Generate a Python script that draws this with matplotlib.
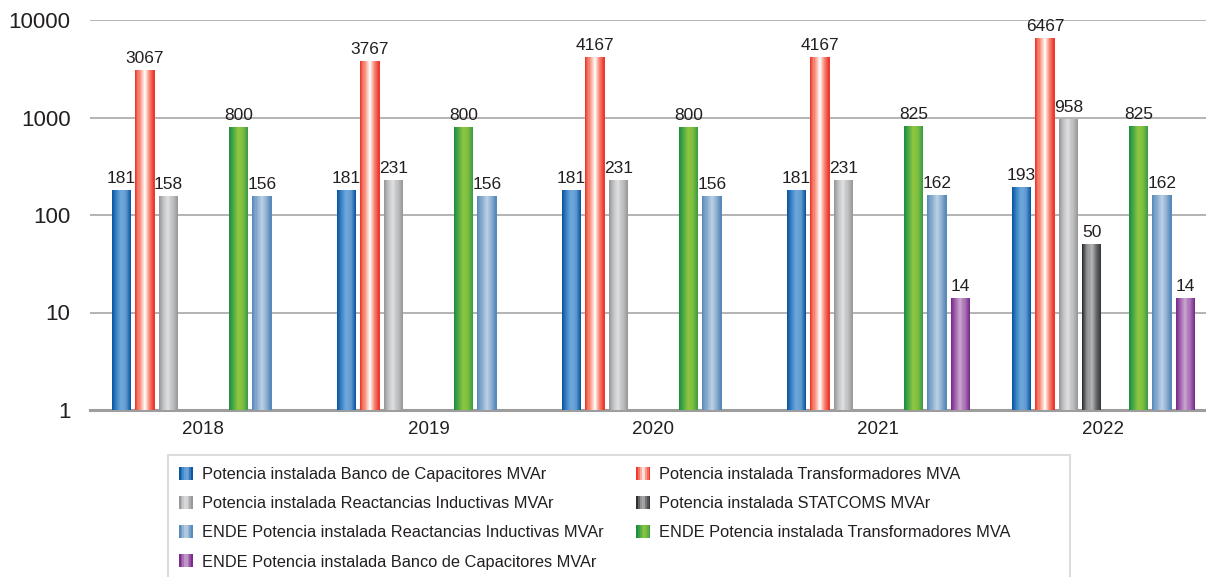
import numpy as np
import matplotlib.pyplot as plt
from matplotlib.colors import LinearSegmentedColormap
from matplotlib.patches import Rectangle
from matplotlib.legend_handler import HandlerBase

plt.rcParams['font.family'] = ['Liberation Sans', 'DejaVu Sans']

years = ['2018', '2019', '2020', '2021', '2022']

# values per series (nan = no bar)
banco = [181, 181, 181, 181, 193]
transf = [3067, 3767, 4167, 4167, 6467]
react = [158, 231, 231, 231, 958]
statcom = [np.nan, np.nan, np.nan, np.nan, 50]
ende_transf = [800, 800, 800, 825, 825]
ende_react = [156, 156, 156, 162, 162]
ende_banco = [np.nan, np.nan, np.nan, 14, 14]

labels = [
    'Potencia instalada Banco de Capacitores MVAr',
    'Potencia instalada Transformadores MVA',
    'Potencia instalada Reactancias Inductivas MVAr',
    'Potencia instalada STATCOMS MVAr',
    'ENDE Potencia instalada Transformadores MVA',
    'ENDE Potencia instalada Reactancias Inductivas MVAr',
    'ENDE Potencia instalada Banco de Capacitores MVAr',
]
series = [banco, transf, react, statcom, ende_transf, ende_react, ende_banco]
slots = [0, 1, 2, 3, 5, 6, 7]  # slot 4 is left empty in the original

# left-to-right colour stops for the cylinder look
grads = [
    ['#0a57a3', '#3f86c6', '#6ea8db', '#5d97cc', '#0a57a3'],
    ['#ee3a2e', '#f8a28f', '#ffffff', '#f58a78', '#ee3a2e'],
    ['#98999b', '#c4c5c7', '#e0e0e1', '#bcbdbf', '#98999b'],
    ['#2f2f31', '#8d8e90', '#b5b6b8', '#6a6b6d', '#39393b'],
    ['#1e8f41', '#4fab45', '#8dc63f', '#79bb40', '#3c9d43'],
    ['#5a8ab9', '#8eb0d3', '#bdd1e6', '#90b1d3', '#5a8ab9'],
    ['#7a2c8e', '#a468b0', '#cba6d0', '#a66fb2', '#7a2c8e'],
]
cmaps = [LinearSegmentedColormap.from_list(f'g{i}', g) for i, g in enumerate(grads)]

slot_w = 0.104
bar_w = 0.085
nstrip = 18

fig = plt.figure(figsize=(12.06, 5.77), dpi=100)
ax = fig.add_axes([90 / 1206, 1 - 410 / 577, 1 - 90 / 1206, (410 - 20) / 577])
ax.set_yscale('log')
ax.set_ylim(1, 10000)
ax.set_xlim(-0.504, 4.456)

x = np.arange(len(years))
for s, vals in enumerate(series):
    cm = cmaps[s]
    for i, v in enumerate(vals):
        if np.isnan(v):
            continue
        xc = x[i] + (slots[s] - 3.5) * slot_w
        x0 = xc - bar_w / 2
        sw = bar_w / nstrip
        for k in range(nstrip):
            ax.bar(x0 + (k + 0.5) * sw, v - 1, width=sw * 1.08, bottom=1,
                   color=cm(k / (nstrip - 1)), linewidth=0, zorder=3)
        ax.text(xc, v * 1.1, f'{int(v)}', ha='center', va='bottom',
                fontsize=12.5, color='#231f20', zorder=4)

ax.set_xticks(x + 0.0)
ax.set_xticklabels(years, fontsize=13.5, color='#231f20')
ax.set_yticks([1, 10, 100, 1000, 10000])
ax.set_yticklabels(['1', '10', '100', '1000', '10000'], fontsize=16, color='#231f20')
ax.minorticks_off()
ax.tick_params(axis='both', length=0)
ax.tick_params(axis='y', pad=14)
ax.tick_params(axis='x', pad=8)
ax.yaxis.grid(True, color='#b3b3b3', linewidth=1.4, zorder=0)
ax.set_axisbelow(True)
for sp in ['top', 'right', 'left']:
    ax.spines[sp].set_visible(False)
ax.spines['bottom'].set_color('#9d9d9d')
ax.spines['bottom'].set_linewidth(2.2)


class GradHandler(HandlerBase):
    def __init__(self, cmap):
        super().__init__()
        self.cmap = cmap

    def create_artists(self, legend, orig_handle, xdescent, ydescent,
                       width, height, fontsize, trans):
        n = 8
        arts = []
        for k in range(n):
            r = Rectangle((-xdescent + k * width / n, -ydescent), width / n * 1.05, height,
                          facecolor=self.cmap(k / (n - 1)), linewidth=0, transform=trans)
            arts.append(r)
        return arts


handles = [Rectangle((0, 0), 1, 1) for _ in labels]
order = [0, 2, 5, 6, 1, 3, 4]
leg = fig.legend([handles[i] for i in order], [labels[i] for i in order],
                 handler_map={handles[i]: GradHandler(cmaps[i]) for i in range(len(labels))},
                 ncol=2, loc='upper left', bbox_to_anchor=(179 / 1206, 1 - 467 / 577),
                 frameon=False, fontsize=11.8, handlelength=0.85, handleheight=0.85,
                 handletextpad=0.55, columnspacing=2.0, labelspacing=0.85,
                 borderaxespad=0, borderpad=0)
for t in leg.get_texts():
    t.set_color('#231f20')

fig.patches.append(Rectangle((168 / 1206, -0.02), (1070 - 168) / 1206, 0.02 + (577 - 455) / 577,
                             transform=fig.transFigure, fill=False,
                             edgecolor='#dcdcdc', linewidth=1.5))

fig.savefig('out.png', dpi=100)
